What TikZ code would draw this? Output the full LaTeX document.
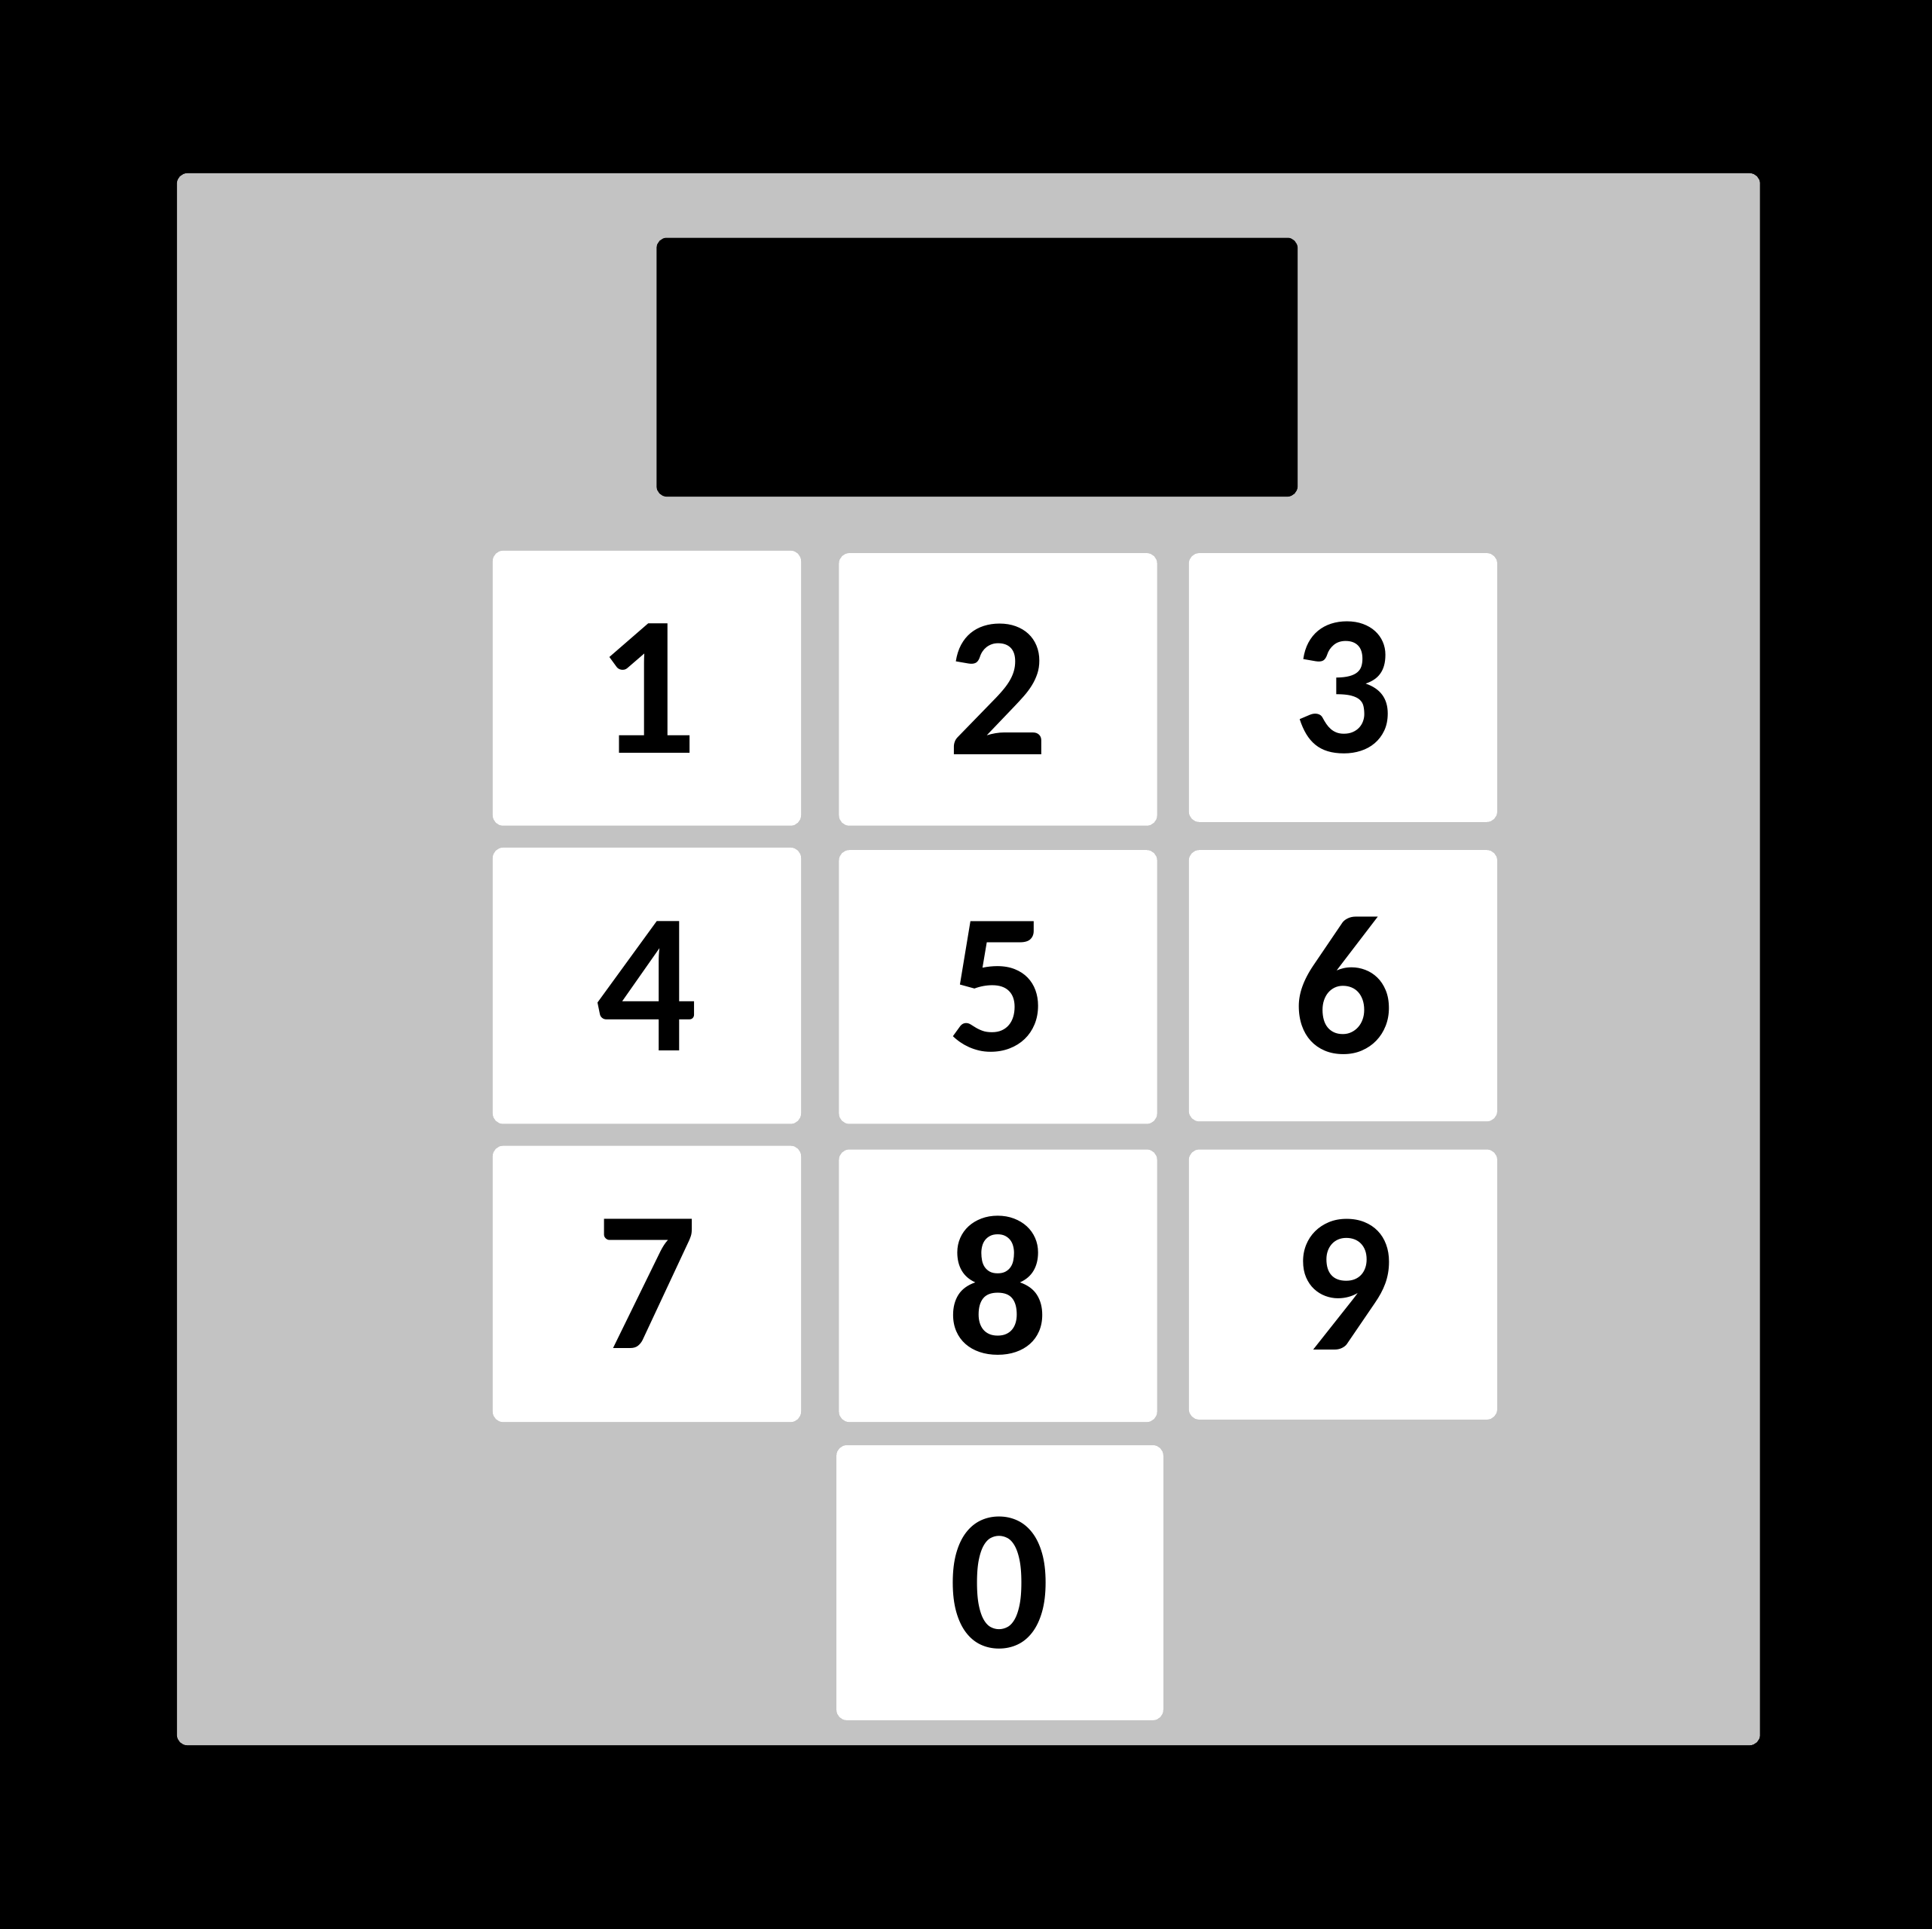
\documentclass[tikz,border=0pt]{standalone}
\usepackage{fontspec}
\setmainfont{Carlito}
\usetikzlibrary{positioning}
\definecolor{panelgray}{HTML}{C3C3C3}

\begin{document}
\begin{tikzpicture}[x=0.01cm,y=-0.01cm,
		key/.style={fill=white,rounded corners=2.4pt,inner sep=0pt,
			font=\fontsize{46}{50}\selectfont\bfseries}]
		% frame and body
		\fill[black] (0,0) rectangle (1568,1565.5);
		\useasboundingbox (0,0) rectangle (1568,1565.5);
		\node[fill=panelgray,rounded corners=2.4pt,inner sep=0pt,minimum width=12.84cm,minimum height=12.75cm] (panel) at (786,778.5) {};
		\node[fill=black,rounded corners=2.4pt,inner sep=0pt,minimum width=5.20cm,minimum height=2.10cm] (screen) at (793,298) {};
		% keys
		\node[key,minimum width=2.50cm,minimum height=2.23cm] (key1) at (525,558.5) {1};
		\node[key,minimum width=2.58cm,minimum height=2.21cm] (key2) at (810,559.5) {2};
		\node[key,minimum width=2.50cm,minimum height=2.18cm] (key3) at (1090,558) {3};
		\node[key,minimum width=2.50cm,minimum height=2.24cm] (key4) at (525,800) {4};
		\node[key,minimum width=2.58cm,minimum height=2.22cm] (key5) at (810,801) {5};
		\node[key,minimum width=2.50cm,minimum height=2.20cm] (key6) at (1090,800) {6};
		\node[key,minimum width=2.50cm,minimum height=2.24cm] (key7) at (525,1042) {7};
		\node[key,minimum width=2.58cm,minimum height=2.21cm] (key8) at (810,1043.5) {8};
		\node[key,minimum width=2.50cm,minimum height=2.19cm] (key9) at (1090,1042.5) {9};
		\node[key,minimum width=2.65cm,minimum height=2.23cm] (key0) at (811.5,1284.5) {0};
\end{tikzpicture}
\end{document}
